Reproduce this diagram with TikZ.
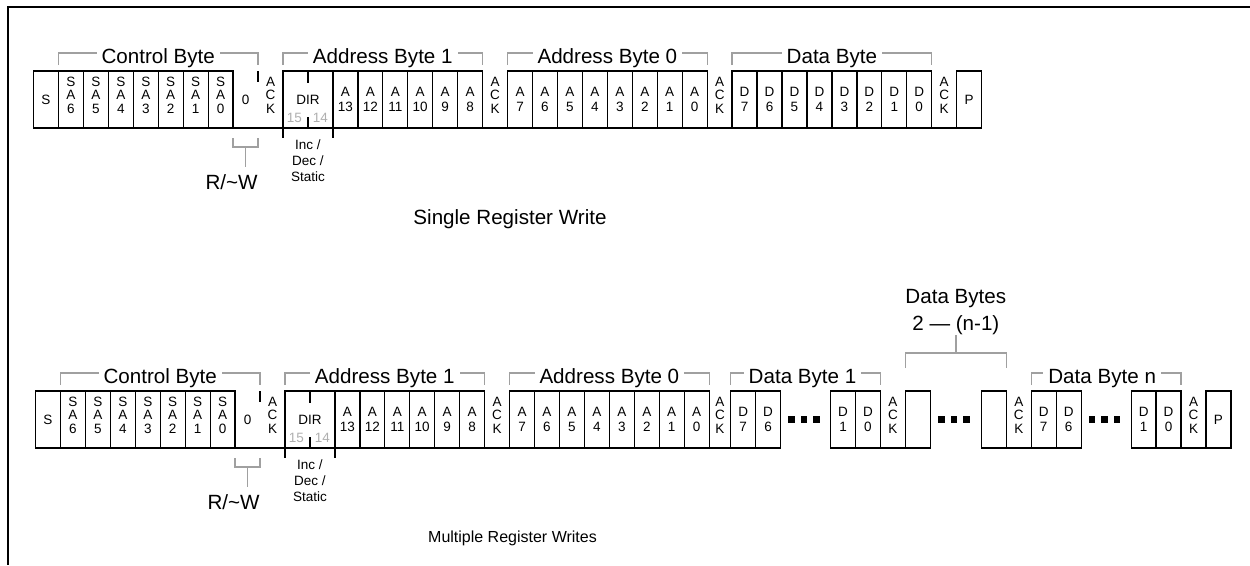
\documentclass[tikz,border=0pt]{standalone}
\usepackage{fontspec}
\setmainfont{Liberation Sans}
\usetikzlibrary{positioning,calc}

\definecolor{brkgray}{RGB}{160,160,160}
\definecolor{bitgray}{RGB}{175,175,175}
\newcommand{\lblfont}{\fontsize{20.6pt}{26.6pt}\selectfont}
\newcommand{\capfont}{\fontsize{16pt}{18pt}\selectfont}
\newcommand{\bitfont}{\fontsize{13.5pt}{15.5pt}\selectfont}
\newcommand{\stackfont}{\fontsize{13.5pt}{13.5pt}\selectfont}
\newcommand{\notefont}{\fontsize{13.5pt}{15.8pt}\selectfont}

\begin{document}
\begin{tikzpicture}
	[x=1pt,y=-1pt,
	 bit/.style={rectangle,draw,line width=1.3pt,minimum width=24.95pt,minimum height=57pt,
	   inner sep=0pt,outer sep=0pt,anchor=north west,align=center,font=\bitfont},
	 stack/.style={bit,font=\stackfont,text depth=8.6pt},
	 open/.style={bit,draw=none},
	 ack/.style={stack,draw=none},
	 wide/.style={bit,minimum width=49.9pt},
	 rule/.style={line width=1.3pt},
	 brk/.style={draw=brkgray,line width=1.3pt},
	 title/.style={font=\lblfont,fill=white,inner xsep=5pt,inner ysep=1pt,anchor=base,yshift=-10pt},
	 caption/.style={font=\lblfont},
	 note/.style={font=\notefont,align=center,inner sep=0pt},
	 gray num/.style={font=\bitfont,text=bitgray,inner sep=0pt},
	 sq/.style={rectangle,fill,minimum size=6.5pt,inner sep=0pt}]
	\useasboundingbox (0,0) rectangle (1250,565);
	\draw[line width=2pt] (1250,7) -- (7.8,7) -- (7.8,565);
	% control and address bytes, same in both frames
	\foreach \r/\xo/\yo in {t/33.5/71,m/35.5/391} {
		\node[bit] (\r0) at (\xo,\yo) {S};
		\foreach \n [count=\k] in {6,...,0}
			\node[stack] (\r\k) at (\xo+24.95*\k,\yo) {S\\A\\\n};
		\node[open] (\r8) at (\xo+24.95*8,\yo) {0};
		\node[ack] (\r9) at (\xo+24.95*9,\yo) {A\\C\\K};
		\node[wide] (\r10) at (\xo+24.95*10,\yo) {DIR};
		\foreach \n [count=\k from 12] in {13,...,8}
			\node[bit] (\r\k) at (\xo+24.95*\k,\yo) {A\\\n};
		\node[ack] (\r18) at (\xo+24.95*18,\yo) {A\\C\\K};
		\foreach \n [count=\k from 19] in {7,...,0}
			\node[bit] (\r\k) at (\xo+24.95*\k,\yo) {A\\\n};
		\draw[rule] (\r8.north east) -- ++(0,11);
		\draw[rule] (\r10.north) -- ++(0,12);
		\draw[rule] (\r10.south) -- ++(0,-11);
		\draw[line width=2pt] (\r10.north east) -- (\r10.south east);
		\node[gray num] (\r-n15) at ([xshift=-13.5pt,yshift=10pt]\r10.south) {15};
		\node[gray num] (\r-n14) at ([xshift=12.5pt,yshift=10pt]\r10.south) {14};
		\draw[rule] (\r10.south west) -- ++(0,10);
		\draw[rule] (\r10.south east) -- ++(0,10);
		\node[note] (\r-dir) [below=12pt of \r10] {Inc /\\Dec /\\Static};
		\draw[brk] ([yshift=-10pt]\r8.south west) -- ++(0,9) -| ([yshift=-10pt]\r8.south east);
		\draw[brk] ([yshift=-19pt]\r8.south) -- ++(0,20);
		\node[caption] (\r-rw) at ([xshift=-14pt,yshift=-54pt]\r8.south) {R/\textasciitilde W};
		\draw[brk] ([yshift=6pt]\r1.north west) -- ++(0,-12) -| ([yshift=6pt]\r8.north east)
			node[title,pos=0.25] (\r-cb) {Control Byte};
		\draw[brk] ([yshift=6pt]\r10.north west) -- ++(0,-12) -| ([yshift=6pt]\r17.north east)
			node[title,pos=0.25] (\r-ab1) {Address Byte 1};
		\draw[brk] ([yshift=6pt]\r19.north west) -- ++(0,-12) -| ([yshift=6pt]\r26.north east)
			node[title,pos=0.25] (\r-ab0) {Address Byte 0};
	}
	% single write
	\node[ack] (t27) at (33.5+24.95*27,71) {A\\C\\K};
	\foreach \n [count=\k from 28] in {7,...,0}
		\node[bit] (t\k) at (33.5+24.95*\k,71) {D\\\n};
	\node[ack] (t36) at (33.5+24.95*36,71) {A\\C\\K};
	\node[bit] (t37) at (33.5+24.95*37,71) {P};
	\draw[rule] (t0.south west) -- (t37.south east);
	\draw[brk] ([yshift=6pt]t28.north west) -- ++(0,-12) -| ([yshift=6pt]t35.north east)
		node[title,pos=0.25] (t-db) {Data Byte};
	\node[caption] (t-cap) at (510,219) {Single Register Write};
	% multiple writes
	\node[ack,minimum width=21.5pt] (m27) at (35.5+24.95*27,391) {A\\C\\K};
	\node[bit] (m28) [right=0pt of m27] {D\\7};
	\node[bit] (m29) [right=0pt of m28] {D\\6};
	\node[bit] (m30) [right=50pt of m29] {D\\1};
	\node[bit] (m31) [right=0pt of m30] {D\\0};
	\node[ack] (m32) [right=0pt of m31] {A\\C\\K};
	\node[bit] (m33) [right=0pt of m32] {};
	\node[bit] (m34) [right=51pt of m33] {};
	\node[ack] (m35) [right=0pt of m34] {A\\C\\K};
	\node[bit] (m36) [right=0pt of m35] {D\\7};
	\node[bit] (m37) [right=0pt of m36] {D\\6};
	\node[bit] (m38) [right=50pt of m37] {D\\1};
	\node[bit] (m39) [right=0pt of m38] {D\\0};
	\node[ack] (m40) [right=0pt of m39] {A\\C\\K};
	\node[bit] (m41) [right=0pt of m40] {P};
	\draw[rule] (m0.south west) -- (m29.south east);
	\draw[rule] (m30.south west) -- (m33.south east);
	\draw[rule] (m34.south west) -- (m37.south east);
	\draw[rule] (m38.south west) -- (m41.south east);
	\foreach \g/\c in {1/m29,2/m33,3/m37}
		\foreach \i in {0,1,2}
			\node[sq] (dot\g\i) at ($(\c.east)+(11+12.5*\i,0)$) {};
	\draw[brk] ([yshift=6pt]m28.north west) -- ++(0,-12) -| ([yshift=6pt]m31.north east)
		node[title,pos=0.25,xshift=-3pt] (m-db1) {Data Byte 1};
	\draw[brk] ([yshift=6pt]m36.north west) -- ++(0,-12) -| ([yshift=6pt]m39.north east)
		node[title,pos=0.25,xshift=-4pt] (m-dbn) {Data Byte n};
	\draw[brk] ([yshift=23pt]m33.north west) -- ++(0,-15) -| ([yshift=23pt]m34.north east);
	\coordinate (m-fork) at ($(m33.north west)!0.5!(m34.north east)+(0,-38)$);
	\node[caption,align=center,inner sep=0pt] (m-dbs) [above=18pt of m-fork] {Data Bytes\\2 — (n-1)};
	\draw[brk] (m-fork) -- (m-dbs);
	\node[font=\capfont] (m-cap) at (512.5,538) {Multiple Register Writes};
\end{tikzpicture}
\end{document}
